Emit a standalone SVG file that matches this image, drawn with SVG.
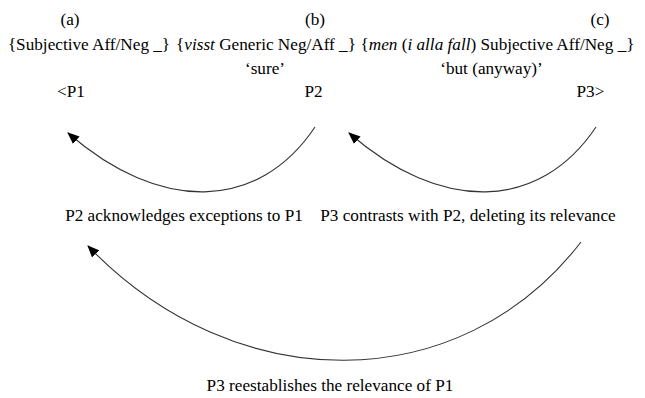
<svg xmlns="http://www.w3.org/2000/svg" width="645" height="398" viewBox="0 0 645 398">
<style>
text{font-family:"Liberation Serif","Times New Roman",serif;font-size:17.2px;fill:#000}
.m{text-anchor:middle}
.c{fill:none;stroke:#333;stroke-width:1.1}
</style>
<defs>
<marker id="ah" viewBox="0 0 12 10" refX="11" refY="5" markerWidth="12" markerHeight="10" markerUnits="userSpaceOnUse" orient="auto">
<path d="M0,0 L12,5 L0,10 Z" fill="#000"/>
</marker>
</defs>
<rect width="645" height="398" fill="#fff"/>
<g id="nodeA">
<text class="m" x="70" y="25">(a)</text>
<text class="m" x="89" y="50">{Subjective Aff/Neg _}</text>
<text class="m" x="71" y="97">&lt;P1</text>
</g>
<g id="nodeB">
<text class="m" x="315" y="25">(b)</text>
<text class="m" x="266" y="50">{<tspan font-style="italic">visst</tspan> Generic Neg/Aff _}</text>
<text class="m" x="265" y="74">‘sure’</text>
<text class="m" x="313.5" y="97">P2</text>
</g>
<g id="nodeC">
<text class="m" x="600" y="25">(c)</text>
<text class="m" x="497.5" y="50">{<tspan font-style="italic">men</tspan> (<tspan font-style="italic">i alla fall</tspan>) Subjective Aff/Neg _}</text>
<text class="m" x="491.5" y="74">‘but (anyway)’</text>
<text class="m" x="590.5" y="97">P3&gt;</text>
</g>
<g id="connectors">
<path class="c" d="M315,127 C258,212 160,213 68,133" marker-end="url(#ah)"/>
<path class="c" d="M596,127 C539,212 441,213 349,133" marker-end="url(#ah)"/>
<path class="c" d="M581,242 C460,399 235,399 88,246" marker-end="url(#ah)"/>
</g>
<g id="labels">
<text class="m" x="184" y="221">P2 acknowledges exceptions to P1</text>
<text class="m" x="468" y="221">P3 contrasts with P2, deleting its relevance</text>
<text class="m" x="330" y="391">P3 reestablishes the relevance of P1</text>
</g>
</svg>
